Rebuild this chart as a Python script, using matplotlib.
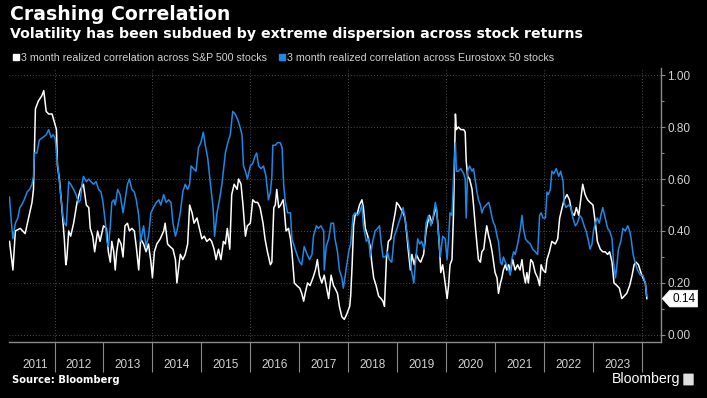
import matplotlib
matplotlib.use("Agg")
import matplotlib.pyplot as plt
from matplotlib.path import Path
from matplotlib.lines import Line2D
from matplotlib.patches import FancyBboxPatch

plt.rcParams["font.family"] = ["Liberation Sans", "DejaVu Sans"]

title = "Crashing Correlation"
subtitle = "Volatility has been subdued by extreme dispersion across stock returns"
spx_label = "3 month realized correlation across S&P 500 stocks"
sx5e_label = "3 month realized correlation across Eurostoxx 50 stocks"
source = "Source: Bloomberg"
year_labels = list(range(2011, 2024))
y_ticks = [0.0, 0.2, 0.4, 0.6, 0.8, 1.0]
last_value_text = "0.14"

# S&P 500 realized correlation (decimal year, value)
spx_t = [2011.08, 2011.15, 2011.20, 2011.30, 2011.40, 2011.47, 2011.54, 2011.57, 2011.61, 2011.67,
         2011.74, 2011.78, 2011.83, 2011.88, 2011.95, 2011.98, 2012.04, 2012.06, 2012.10, 2012.15,
         2012.20, 2012.23, 2012.25, 2012.29, 2012.33, 2012.39, 2012.46, 2012.53, 2012.59, 2012.65,
         2012.70, 2012.73, 2012.78, 2012.82, 2012.88, 2012.93, 2013.00, 2013.06, 2013.10, 2013.14,
         2013.17, 2013.21, 2013.24, 2013.27, 2013.31, 2013.36, 2013.40, 2013.44, 2013.49, 2013.53,
         2013.58, 2013.63, 2013.67, 2013.72, 2013.76, 2013.82, 2013.87, 2013.92, 2013.97, 2014.00,
         2014.04, 2014.09, 2014.16, 2014.23, 2014.26, 2014.31, 2014.36, 2014.42, 2014.47, 2014.50,
         2014.53, 2014.57, 2014.62, 2014.67, 2014.72, 2014.76, 2014.81, 2014.85, 2014.91, 2014.96,
         2015.01, 2015.06, 2015.11, 2015.17, 2015.21, 2015.26, 2015.30, 2015.35, 2015.40, 2015.45,
         2015.49, 2015.53, 2015.58, 2015.62, 2015.67, 2015.73, 2015.76, 2015.81, 2015.85, 2015.90,
         2015.94, 2016.00, 2016.05, 2016.10, 2016.15, 2016.20, 2016.26, 2016.30, 2016.35, 2016.41,
         2016.44, 2016.48, 2016.51, 2016.54, 2016.58, 2016.62, 2016.67, 2016.69, 2016.73, 2016.78,
         2016.82, 2016.85, 2016.90, 2016.95, 2017.01, 2017.05, 2017.09, 2017.12, 2017.17, 2017.22,
         2017.28, 2017.33, 2017.37, 2017.41, 2017.46, 2017.51, 2017.55, 2017.60, 2017.65, 2017.70,
         2017.73, 2017.78, 2017.82, 2017.87, 2017.92, 2017.97, 2018.03, 2018.05, 2018.08, 2018.11,
         2018.14, 2018.19, 2018.23, 2018.28, 2018.31, 2018.35, 2018.40, 2018.45, 2018.48, 2018.52,
         2018.57, 2018.62, 2018.67, 2018.71, 2018.74, 2018.78, 2018.82, 2018.87, 2018.91, 2018.96,
         2018.99, 2019.03, 2019.06, 2019.12, 2019.16, 2019.20, 2019.23, 2019.27, 2019.30, 2019.35,
         2019.39, 2019.44, 2019.48, 2019.54, 2019.59, 2019.62, 2019.66, 2019.71, 2019.76, 2019.80,
         2019.83, 2019.87, 2019.89, 2019.93, 2019.98, 2020.02, 2020.05, 2020.08, 2020.12, 2020.15,
         2020.19, 2020.21, 2020.25, 2020.30, 2020.36, 2020.39, 2020.41, 2020.44, 2020.48, 2020.53,
         2020.56, 2020.60, 2020.63, 2020.66, 2020.70, 2020.73, 2020.77, 2020.80, 2020.83, 2020.87,
         2020.90, 2020.94, 2020.97, 2021.00, 2021.04, 2021.07, 2021.11, 2021.14, 2021.17, 2021.21,
         2021.24, 2021.28, 2021.31, 2021.36, 2021.41, 2021.46, 2021.51, 2021.55, 2021.58, 2021.62,
         2021.65, 2021.68, 2021.73, 2021.77, 2021.82, 2021.87, 2021.91, 2021.94, 2021.98, 2022.03,
         2022.06, 2022.11, 2022.16, 2022.23, 2022.28, 2022.32, 2022.37, 2022.41, 2022.47, 2022.52,
         2022.57, 2022.62, 2022.66, 2022.71, 2022.75, 2022.79, 2022.84, 2022.89, 2022.94, 2023.00,
         2023.05, 2023.09, 2023.15, 2023.20, 2023.25, 2023.30, 2023.34, 2023.39, 2023.43, 2023.49,
         2023.54, 2023.59, 2023.64, 2023.69, 2023.75, 2023.80, 2023.84, 2023.88, 2023.93, 2023.98,
         2024.02, 2024.07, 2024.10]
spx_v = [0.36, 0.25, 0.40, 0.41, 0.39, 0.45, 0.51, 0.56, 0.87, 0.90,
         0.92, 0.94, 0.86, 0.85, 0.85, 0.83, 0.79, 0.65, 0.60, 0.49,
         0.37, 0.27, 0.29, 0.40, 0.38, 0.43, 0.51, 0.56, 0.58, 0.50,
         0.49, 0.41, 0.38, 0.32, 0.40, 0.36, 0.42, 0.41, 0.32, 0.28,
         0.36, 0.32, 0.25, 0.32, 0.37, 0.35, 0.30, 0.42, 0.43, 0.40,
         0.41, 0.40, 0.34, 0.25, 0.37, 0.35, 0.32, 0.35, 0.28, 0.22,
         0.32, 0.35, 0.37, 0.40, 0.43, 0.35, 0.34, 0.33, 0.29, 0.20,
         0.25, 0.31, 0.29, 0.31, 0.35, 0.50, 0.47, 0.43, 0.45, 0.41,
         0.37, 0.38, 0.36, 0.37, 0.36, 0.33, 0.29, 0.33, 0.29, 0.36,
         0.35, 0.41, 0.33, 0.54, 0.58, 0.56, 0.60, 0.58, 0.50, 0.38,
         0.42, 0.43, 0.52, 0.51, 0.51, 0.49, 0.43, 0.37, 0.32, 0.27,
         0.28, 0.49, 0.50, 0.56, 0.49, 0.50, 0.52, 0.49, 0.40, 0.41,
         0.37, 0.32, 0.20, 0.19, 0.18, 0.16, 0.13, 0.16, 0.20, 0.19,
         0.22, 0.25, 0.29, 0.23, 0.20, 0.23, 0.19, 0.14, 0.23, 0.19,
         0.18, 0.16, 0.11, 0.07, 0.06, 0.08, 0.11, 0.15, 0.27, 0.42,
         0.46, 0.47, 0.50, 0.52, 0.49, 0.41, 0.38, 0.34, 0.28, 0.22,
         0.19, 0.15, 0.14, 0.13, 0.11, 0.29, 0.36, 0.37, 0.42, 0.47,
         0.51, 0.50, 0.49, 0.47, 0.45, 0.38, 0.32, 0.25, 0.31, 0.27,
         0.31, 0.29, 0.28, 0.31, 0.40, 0.43, 0.46, 0.43, 0.47, 0.49,
         0.43, 0.32, 0.24, 0.27, 0.20, 0.14, 0.19, 0.27, 0.29, 0.46,
         0.85, 0.79, 0.80, 0.79, 0.79, 0.78, 0.67, 0.61, 0.60, 0.56,
         0.50, 0.41, 0.35, 0.29, 0.28, 0.32, 0.33, 0.38, 0.42, 0.38,
         0.36, 0.32, 0.28, 0.24, 0.22, 0.16, 0.20, 0.22, 0.25, 0.27,
         0.25, 0.27, 0.24, 0.29, 0.25, 0.27, 0.25, 0.29, 0.24, 0.20,
         0.24, 0.20, 0.29, 0.28, 0.24, 0.22, 0.19, 0.27, 0.25, 0.24,
         0.29, 0.32, 0.36, 0.35, 0.37, 0.45, 0.49, 0.52, 0.54, 0.52,
         0.47, 0.46, 0.49, 0.46, 0.52, 0.58, 0.54, 0.52, 0.51, 0.50,
         0.43, 0.36, 0.33, 0.32, 0.32, 0.31, 0.32, 0.28, 0.20, 0.19,
         0.18, 0.14, 0.15, 0.16, 0.19, 0.23, 0.27, 0.28, 0.27, 0.24,
         0.22, 0.20, 0.14]

# Eurostoxx 50 realized correlation (decimal year, value)
sx5e_t = [2011.08, 2011.12, 2011.15, 2011.20, 2011.25, 2011.29, 2011.33, 2011.38, 2011.44, 2011.49,
          2011.54, 2011.57, 2011.59, 2011.64, 2011.69, 2011.76, 2011.83, 2011.88, 2011.93, 2011.97,
          2012.01, 2012.05, 2012.10, 2012.14, 2012.17, 2012.20, 2012.24, 2012.29, 2012.33, 2012.39,
          2012.44, 2012.49, 2012.53, 2012.56, 2012.59, 2012.65, 2012.70, 2012.74, 2012.80, 2012.85,
          2012.90, 2012.95, 2012.99, 2013.04, 2013.07, 2013.10, 2013.14, 2013.17, 2013.21, 2013.24,
          2013.29, 2013.34, 2013.40, 2013.44, 2013.49, 2013.53, 2013.58, 2013.63, 2013.67, 2013.72,
          2013.76, 2013.82, 2013.87, 2013.92, 2013.97, 2014.02, 2014.08, 2014.13, 2014.17, 2014.23,
          2014.28, 2014.33, 2014.38, 2014.42, 2014.47, 2014.50, 2014.57, 2014.62, 2014.67, 2014.72,
          2014.76, 2014.79, 2014.84, 2014.89, 2014.94, 2014.99, 2015.04, 2015.08, 2015.13, 2015.18,
          2015.24, 2015.27, 2015.32, 2015.37, 2015.42, 2015.49, 2015.54, 2015.59, 2015.64, 2015.69,
          2015.74, 2015.79, 2015.83, 2015.86, 2015.90, 2015.94, 2016.00, 2016.05, 2016.10, 2016.13,
          2016.17, 2016.22, 2016.27, 2016.32, 2016.37, 2016.41, 2016.44, 2016.46, 2016.51, 2016.56,
          2016.61, 2016.65, 2016.68, 2016.71, 2016.76, 2016.82, 2016.85, 2016.90, 2016.95, 2017.01,
          2017.05, 2017.10, 2017.16, 2017.21, 2017.26, 2017.29, 2017.35, 2017.39, 2017.44, 2017.50,
          2017.51, 2017.55, 2017.60, 2017.65, 2017.70, 2017.73, 2017.78, 2017.82, 2017.87, 2017.90,
          2017.94, 2017.97, 2018.01, 2018.05, 2018.10, 2018.14, 2018.19, 2018.23, 2018.28, 2018.31,
          2018.37, 2018.42, 2018.45, 2018.50, 2018.55, 2018.60, 2018.64, 2018.67, 2018.71, 2018.76,
          2018.80, 2018.84, 2018.89, 2018.94, 2018.98, 2019.03, 2019.08, 2019.12, 2019.16, 2019.21,
          2019.25, 2019.30, 2019.34, 2019.37, 2019.42, 2019.46, 2019.50, 2019.55, 2019.59, 2019.64,
          2019.69, 2019.73, 2019.78, 2019.81, 2019.85, 2019.88, 2019.93, 2019.98, 2020.02, 2020.05,
          2020.08, 2020.12, 2020.15, 2020.19, 2020.21, 2020.25, 2020.30, 2020.36, 2020.39, 2020.41,
          2020.44, 2020.48, 2020.53, 2020.56, 2020.60, 2020.63, 2020.66, 2020.70, 2020.73, 2020.77,
          2020.82, 2020.87, 2020.90, 2020.94, 2020.97, 2021.00, 2021.04, 2021.07, 2021.11, 2021.14,
          2021.17, 2021.21, 2021.24, 2021.28, 2021.31, 2021.34, 2021.38, 2021.41, 2021.45, 2021.48,
          2021.51, 2021.55, 2021.58, 2021.62, 2021.66, 2021.72, 2021.77, 2021.82, 2021.87, 2021.91,
          2021.94, 2021.98, 2022.03, 2022.06, 2022.09, 2022.13, 2022.16, 2022.20, 2022.25, 2022.30,
          2022.34, 2022.39, 2022.41, 2022.45, 2022.50, 2022.55, 2022.59, 2022.64, 2022.68, 2022.73,
          2022.77, 2022.82, 2022.86, 2022.91, 2022.94, 2022.98, 2023.01, 2023.05, 2023.09, 2023.13,
          2023.16, 2023.20, 2023.25, 2023.30, 2023.34, 2023.39, 2023.42, 2023.46, 2023.49, 2023.52,
          2023.57, 2023.61, 2023.66, 2023.71, 2023.75, 2023.78, 2023.82, 2023.86, 2023.91, 2023.97,
          2024.02, 2024.07, 2024.10]
sx5e_v = [0.53, 0.43, 0.37, 0.43, 0.45, 0.49, 0.50, 0.52, 0.55, 0.56,
          0.58, 0.61, 0.70, 0.70, 0.75, 0.76, 0.77, 0.79, 0.76, 0.77,
          0.76, 0.68, 0.59, 0.52, 0.46, 0.43, 0.42, 0.59, 0.58, 0.56,
          0.54, 0.51, 0.52, 0.58, 0.61, 0.59, 0.60, 0.59, 0.58, 0.59,
          0.56, 0.55, 0.51, 0.43, 0.36, 0.34, 0.42, 0.51, 0.52, 0.50,
          0.56, 0.54, 0.47, 0.52, 0.58, 0.60, 0.56, 0.55, 0.52, 0.46,
          0.36, 0.42, 0.34, 0.38, 0.47, 0.49, 0.51, 0.52, 0.50, 0.54,
          0.51, 0.52, 0.51, 0.43, 0.38, 0.40, 0.47, 0.55, 0.58, 0.56,
          0.58, 0.65, 0.64, 0.63, 0.72, 0.74, 0.78, 0.73, 0.68, 0.59,
          0.49, 0.38, 0.47, 0.52, 0.58, 0.70, 0.74, 0.77, 0.86, 0.85,
          0.83, 0.80, 0.77, 0.65, 0.63, 0.60, 0.65, 0.66, 0.69, 0.70,
          0.65, 0.64, 0.65, 0.61, 0.52, 0.55, 0.61, 0.73, 0.73, 0.74,
          0.74, 0.72, 0.58, 0.52, 0.47, 0.47, 0.37, 0.34, 0.31, 0.28,
          0.27, 0.34, 0.31, 0.29, 0.31, 0.38, 0.42, 0.41, 0.42, 0.40,
          0.25, 0.34, 0.37, 0.43, 0.43, 0.37, 0.32, 0.25, 0.22, 0.18,
          0.23, 0.27, 0.32, 0.35, 0.46, 0.47, 0.46, 0.47, 0.50, 0.42,
          0.36, 0.37, 0.30, 0.36, 0.40, 0.41, 0.42, 0.36, 0.30, 0.30,
          0.32, 0.29, 0.28, 0.38, 0.40, 0.43, 0.46, 0.49, 0.45, 0.38,
          0.32, 0.24, 0.20, 0.27, 0.37, 0.35, 0.36, 0.33, 0.43, 0.46,
          0.42, 0.45, 0.51, 0.47, 0.37, 0.30, 0.38, 0.37, 0.29, 0.37,
          0.47, 0.46, 0.60, 0.74, 0.63, 0.63, 0.64, 0.62, 0.60, 0.45,
          0.63, 0.65, 0.63, 0.64, 0.59, 0.55, 0.52, 0.50, 0.47, 0.49,
          0.50, 0.51, 0.49, 0.45, 0.43, 0.42, 0.38, 0.36, 0.28, 0.27,
          0.30, 0.28, 0.27, 0.25, 0.23, 0.29, 0.32, 0.31, 0.34, 0.37,
          0.40, 0.46, 0.41, 0.37, 0.36, 0.35, 0.33, 0.32, 0.31, 0.46,
          0.47, 0.45, 0.45, 0.55, 0.54, 0.56, 0.63, 0.62, 0.64, 0.61,
          0.63, 0.59, 0.51, 0.49, 0.50, 0.49, 0.45, 0.42, 0.43, 0.46,
          0.45, 0.42, 0.40, 0.36, 0.33, 0.35, 0.40, 0.43, 0.45, 0.43,
          0.46, 0.49, 0.45, 0.41, 0.40, 0.37, 0.28, 0.22, 0.27, 0.33,
          0.36, 0.41, 0.40, 0.42, 0.40, 0.37, 0.31, 0.28, 0.25, 0.23,
          0.23, 0.20, 0.15]

W, H = 707, 398
bg = "black"
blue = "#1e88e5"
axis_gray = "#8a8a8a"
text_gray = "#d2d2d2"
grid_gray = "#4d4d4d"
bold_font = ["DejaVu Sans"]

fig = plt.figure(figsize=(W / 100, H / 100), dpi=100, facecolor=bg)
ax = fig.add_axes([9 / W, 1 - 342 / H, 652 / W, 274 / H])
ax.set_facecolor(bg)

x_min, x_max = 2011.07, 2024.39
ax.set_xlim(x_min, x_max)
ax.set_ylim(-0.027, 1.027)

# dotted grid
for y in y_ticks:
    ax.axhline(y, color=grid_gray, lw=0.7, ls=(0, (1, 2)), zorder=0)
for yr in range(2012, 2025, 2):
    ax.axvline(yr, color=grid_gray, lw=0.7, ls=(0, (1, 2)), zorder=0)

ax.plot(spx_t, spx_v, color="white", lw=1.1, zorder=2)
ax.plot(sx5e_t, sx5e_v, color=blue, lw=1.1, zorder=3)

for side in ["top", "left"]:
    ax.spines[side].set_visible(False)
for side in ["right", "bottom"]:
    ax.spines[side].set_color(axis_gray)
    ax.spines[side].set_linewidth(1.0)

# y axis on the right
ax.yaxis.tick_right()
ax.set_yticks(y_ticks)
ax.set_yticklabels([f"{v:.2f}" for v in y_ticks])
ax.set_yticks([0.1, 0.3, 0.5, 0.7, 0.9], minor=True)
ax.tick_params(axis="y", which="major", length=3, width=0.8, color=axis_gray,
               labelcolor=text_gray, labelsize=8.5, pad=1.5)
ax.tick_params(axis="y", which="minor", length=2, width=0.8, color=axis_gray)

# x axis: year separators and centred labels
ax.set_xticks([yr for yr in range(2012, 2025)])
ax.set_xticklabels([])
label_pos = [(max(yr, x_min) + min(yr + 1, x_max)) / 2 for yr in year_labels]
label_pos[0] += 0.07
ax.set_xticks(label_pos, minor=True)
ax.set_xticklabels([str(yr) for yr in year_labels], minor=True)
ax.tick_params(axis="x", which="major", length=21.5, width=0.8, color=axis_gray)
ax.tick_params(axis="x", which="minor", length=0, pad=12.5,
               labelcolor=text_gray, labelsize=8.5)


# last value tag
def tag_box(x0, y0, width, height, mutation_size):
    pad = 0.2 * mutation_size
    x0, y0 = x0 - pad, y0 - pad
    x1, y1 = x0 + width + 2 * pad, y0 + height + 2 * pad
    ym = (y0 + y1) / 2
    tip = (y1 - y0) * 0.45
    return Path([(x0 - tip, ym), (x0, y0), (x1, y0), (x1, y1), (x0, y1), (x0 - tip, ym)],
                closed=True)


ax.annotate(last_value_text, xy=(1.0, spx_v[-1]), xycoords=("axes fraction", "data"),
            xytext=(8, 0), textcoords="offset points", ha="left", va="center",
            fontsize=8.5, color="black", annotation_clip=False,
            bbox=dict(boxstyle=tag_box, fc="white", ec="white", lw=0.5))

# titles
fig.text(10 / W, 1 - 15 / H, title, color="white", fontsize=13.6, fontweight="bold",
         family=bold_font, va="center", ha="left")
fig.text(10 / W, 1 - 34 / H, subtitle, color="white", fontsize=10.2, fontweight="bold",
         family=bold_font, va="center", ha="left")

# legend
handles = [Line2D([], [], ls="none", marker="s", ms=5, mfc="white", mec="white"),
           Line2D([], [], ls="none", marker="s", ms=5, mfc=blue, mec=blue)]
fig.legend(handles, [spx_label, sx5e_label], loc="center left",
           bbox_to_anchor=(13 / W, 1 - 58 / H), ncol=2, frameon=False,
           fontsize=7.7, labelcolor=text_gray, handlelength=0.6, handletextpad=0.15,
           columnspacing=1.1, borderpad=0, borderaxespad=0)

# footer
fig.text(12 / W, 1 - 380 / H, source, color="white", fontsize=7.2, fontweight="bold",
         family=bold_font, va="center", ha="left")
fig.text(680 / W, 1 - 379 / H, "Bloomberg", color="white", fontsize=10.2,
         va="center", ha="right")
fig.patches.append(FancyBboxPatch((684 / W, 1 - 385 / H), 9 / W, 11 / H,
                                  boxstyle="round,pad=0.001", fc="#dddddd", ec="none",
                                  transform=fig.transFigure, figure=fig))

fig.savefig("out.png", dpi=100, facecolor=bg)
